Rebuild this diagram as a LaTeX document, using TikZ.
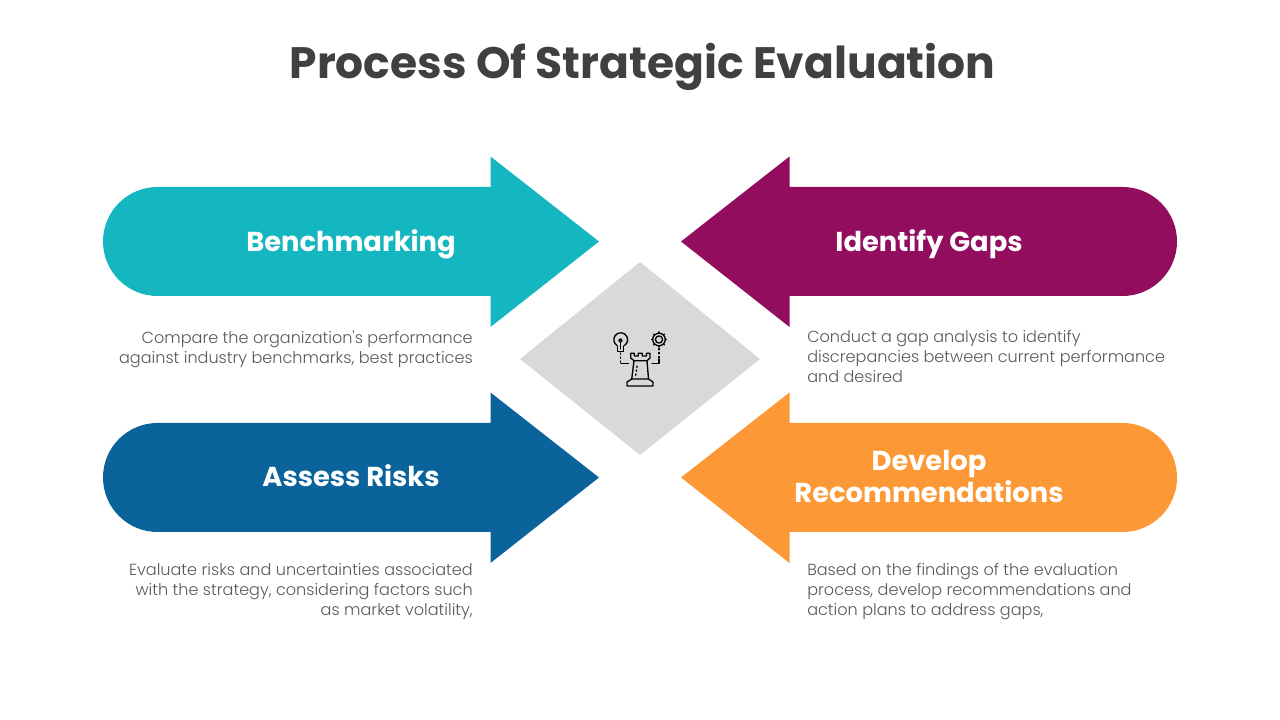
\documentclass[tikz,border=0pt]{standalone}
\usepackage{fontspec}
\setmainfont{Poppins}
\newfontfamily\bodyfont{Poppins}[UprightFont=* Light]
\definecolor{tealcol}{HTML}{14B6BF}
\definecolor{plumcol}{HTML}{930D5E}
\definecolor{bluecol}{HTML}{0A649B}
\definecolor{orangecol}{HTML}{FC9835}
\definecolor{greycol}{HTML}{D9D9D9}
\definecolor{titlecol}{HTML}{404040}
\definecolor{bodycol}{HTML}{595959}
\tikzset{
  headtext/.style = {text=white,font=\fontsize{20.5}{23.3}\selectfont\bfseries,align=center},
  bodytext/.style = {text=bodycol,font=\bodyfont\fontsize{12.05}{14.7}\selectfont},
  icon/.style = {line width=1pt,black,line cap=round,line join=round},
  pics/bigarrow/.style = {
    code = {
      \fill[#1] (-482.5,54.5) -- (-149.5,54.5) -- (-149.5,85) -- (-41,0) -- (-149.5,-85.5)
        -- (-149.5,-54.5) -- (-482.5,-54.5) arc (270:90:54.5) -- cycle;
    }
  }
}

\begin{document}
\begin{tikzpicture}[x=0.75pt,y=0.75pt]
  \useasboundingbox (0,0) rectangle (1280,720);
  % title
  \node[text=titlecol,font=\fontsize{33}{38}\selectfont\bfseries] (title) at (642.5,653) {Process Of Strategic Evaluation};
  % arrows
  \pic at (640,478.5) {bigarrow=tealcol};
  \pic at (640,242.5) {bigarrow=bluecol};
  \pic[xscale=-1] at (640,478.5) {bigarrow=plumcol};
  \pic[xscale=-1] at (640,242.5) {bigarrow=orangecol};
  % diamond
  \fill[greycol] (640,458) -- (760,361) -- (640,265) -- (520,361) -- cycle;
  % arrow labels
  \node[headtext] (bench) at (351,475.5) {Benchmarking};
  \node[headtext] (gaps)  at (929,475.5) {Identify Gaps};
  \node[headtext] (risks) at (351,244.5) {Assess Risks};
  \node[headtext] (recom) at (929,243.5) {Develop\\Recommendations};
  % descriptions
  \node[bodytext,anchor=north east,align=right,inner sep=0pt] (benchtext) at (473,389.5)
    {Compare the organization's performance\\against industry benchmarks, best practices};
  \node[bodytext,anchor=north west,align=left,inner sep=0pt] (gapstext) at (807,389.5)
    {Conduct a gap analysis to identify\\discrepancies between current performance\\and desired};
  \node[bodytext,anchor=north east,align=right,inner sep=0pt] (riskstext) at (473,156.5)
    {Evaluate risks and uncertainties associated\\with the strategy, considering factors such\\as market volatility,};
  \node[bodytext,anchor=north west,align=left,inner sep=0pt] (recomtext) at (807,156.5)
    {Based on the findings of the evaluation\\process, develop recommendations and\\action plans to address gaps,};
  % icon
  \begin{scope}[icon]
    % bulb
    \draw (617.7,374) -- (617.7,368.5) -- (623.3,368.5) -- (623.3,374);
    \draw (617,374.5) arc (237:-57:6.9);
    \draw (620.5,371) -- (620.5,378);
    \draw (620.5,379.5) circle (1.6);
    \draw[dotted] (620.5,367) -- (620.5,357.5);
    \draw (621,356.5) -- (628.5,356.5);
    % gear
    \draw (659,380.5) circle (6.3);
    \draw (659,380.5) circle (3.6);
    \foreach \a in {0,45,...,315}
      \draw (659,380.5) ++(\a:6.3) -- ++(\a:1.2);
    \draw[dotted] (659,371.5) -- (659,362);
    \draw (659,361) -- (659,356.5) -- (652,356.5);
    % rook
    \draw (630.7,366.7) -- (630.7,362) -- (634,359.3) -- (647,359.3) -- (650,362) -- (650,366.7) -- (646.5,366.7)
      -- (646.5,364) -- (642.3,364) -- (642.3,366.7) -- (638.3,366.7) -- (638.3,364) -- (634.3,364) -- (634.3,366.7) -- cycle;
    \draw (634,359.3) -- (631.7,341);
    \draw (647,359.3) -- (648.5,341);
    \draw (627,334) -- (653,334) -- (653,338) -- (648.5,341) -- (631.7,341) -- (627,338) -- cycle;
    \draw[dotted] (637,354) -- (635.5,343);
  \end{scope}
\end{tikzpicture}
\end{document}
